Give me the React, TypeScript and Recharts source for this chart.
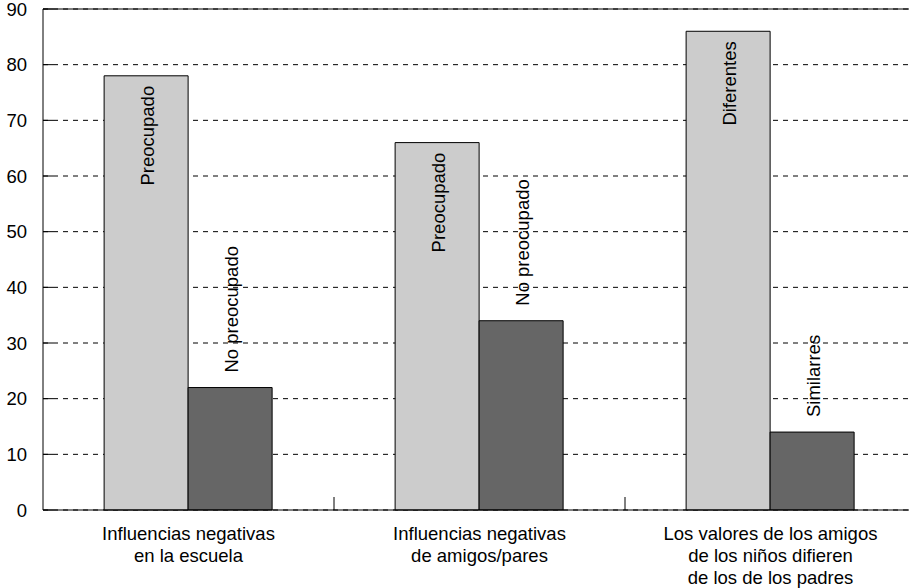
import { BarChart, Bar, XAxis, YAxis, CartesianGrid, ReferenceLine, LabelList } from 'recharts'

// ── data ────────────────────────────────────────────────────────────────
const categories = [
  'Influencias negativas\nen la escuela',
  'Influencias negativas\nde amigos/pares',
  'Los valores de los amigos\nde los niños difieren\nde los de los padres',
]
const firstValues = [78, 66, 86]
const secondValues = [22, 34, 14]
const firstLabels = ['Preocupado', 'Preocupado', 'Diferentes']
const secondLabels = ['No preocupado', 'No preocupado', 'Similarres']
const yTicks = [0, 10, 20, 30, 40, 50, 60, 70, 80, 90]

const data = categories.map((name, i) => ({
  name,
  first: firstValues[i],
  second: secondValues[i],
  firstLabel: firstLabels[i],
  secondLabel: secondLabels[i],
}))

const FONT = '"Liberation Sans", Arial, Helvetica, sans-serif'
const FS = 18.5
const CHART_W = 930
const CHART_H = 588
const MARGIN = { top: 9, right: 14, left: 0, bottom: 0 }
const Y_W = 43
const BAND = (CHART_W - MARGIN.left - MARGIN.right - Y_W) / categories.length

function YTick(props: any) {
  const { x, y, payload } = props
  return (
    <g>
      <line x1={x} x2={x + 10} y1={y} y2={y} stroke="#000" strokeWidth={1} />
      <text x={x - 16} y={y} textAnchor="end" dominantBaseline="central" fontSize={FS} fontFamily={FONT} fill="#000">
        {payload.value}
      </text>
    </g>
  )
}

function XTick(props: any) {
  const { x, y, payload, index } = props
  const lines = String(payload.value).split('\n')
  return (
    <g>
      {index > 0 && <line x1={x - BAND / 2} x2={x - BAND / 2} y1={y - 13} y2={y} stroke="#000" strokeWidth={1} />}
      <text x={x} y={y + 30} textAnchor="middle" fontSize={FS} fontFamily={FONT} fill="#000">
        {lines.map((l, i) => (
          <tspan key={i} x={x} dy={i === 0 ? 0 : 22}>
            {l}
          </tspan>
        ))}
      </text>
    </g>
  )
}

// rotated label sitting inside the top of the light bar
function InsideLabel(props: any) {
  const { x, y, width, value } = props
  const cx = x + width / 2 + 1
  const cy = y + 10
  return (
    <text
      x={cx}
      y={cy}
      transform={`rotate(-90, ${cx}, ${cy})`}
      textAnchor="end"
      dominantBaseline="central"
      fontSize={FS}
      fontFamily={FONT}
      fill="#000"
    >
      {value}
    </text>
  )
}

// rotated label above the dark bar
function AboveLabel(props: any) {
  const { x, y, width, value } = props
  const cx = x + width / 2 + 1
  const cy = y - 15
  return (
    <text
      x={cx}
      y={cy}
      transform={`rotate(-90, ${cx}, ${cy})`}
      textAnchor="start"
      dominantBaseline="central"
      fontSize={FS}
      fontFamily={FONT}
      fill="#000"
    >
      {value}
    </text>
  )
}

export default function App() {
  return (
    <div style={{ position: 'absolute', left: 0, top: 0, width: 909, height: 588, overflow: 'hidden', background: '#fff' }}>
      <BarChart width={CHART_W} height={CHART_H} data={data} margin={MARGIN} barCategoryGap="21%" barGap={0}>
        <CartesianGrid horizontal vertical={false} stroke="#000" strokeDasharray="5 5" />
        <XAxis
          dataKey="name"
          height={78}
          axisLine={{ stroke: '#000', strokeWidth: 1 }}
          tickLine={false}
          tickSize={0}
          tickMargin={0}
          tick={<XTick />}
          interval={0}
        />
        <YAxis
          width={Y_W}
          domain={[0, 90]}
          ticks={yTicks}
          axisLine={{ stroke: '#000', strokeWidth: 1 }}
          tickLine={false}
          tickSize={0}
          tickMargin={0}
          tick={<YTick />}
          interval={0}
        />
        <ReferenceLine y={90} stroke="#000" strokeWidth={1} />
        <Bar dataKey="first" fill="#cccccc" stroke="#000" strokeWidth={1} isAnimationActive={false}>
          <LabelList dataKey="firstLabel" content={<InsideLabel />} />
        </Bar>
        <Bar dataKey="second" fill="#666666" stroke="#000" strokeWidth={1} isAnimationActive={false}>
          <LabelList dataKey="secondLabel" content={<AboveLabel />} />
        </Bar>
      </BarChart>
    </div>
  )
}
